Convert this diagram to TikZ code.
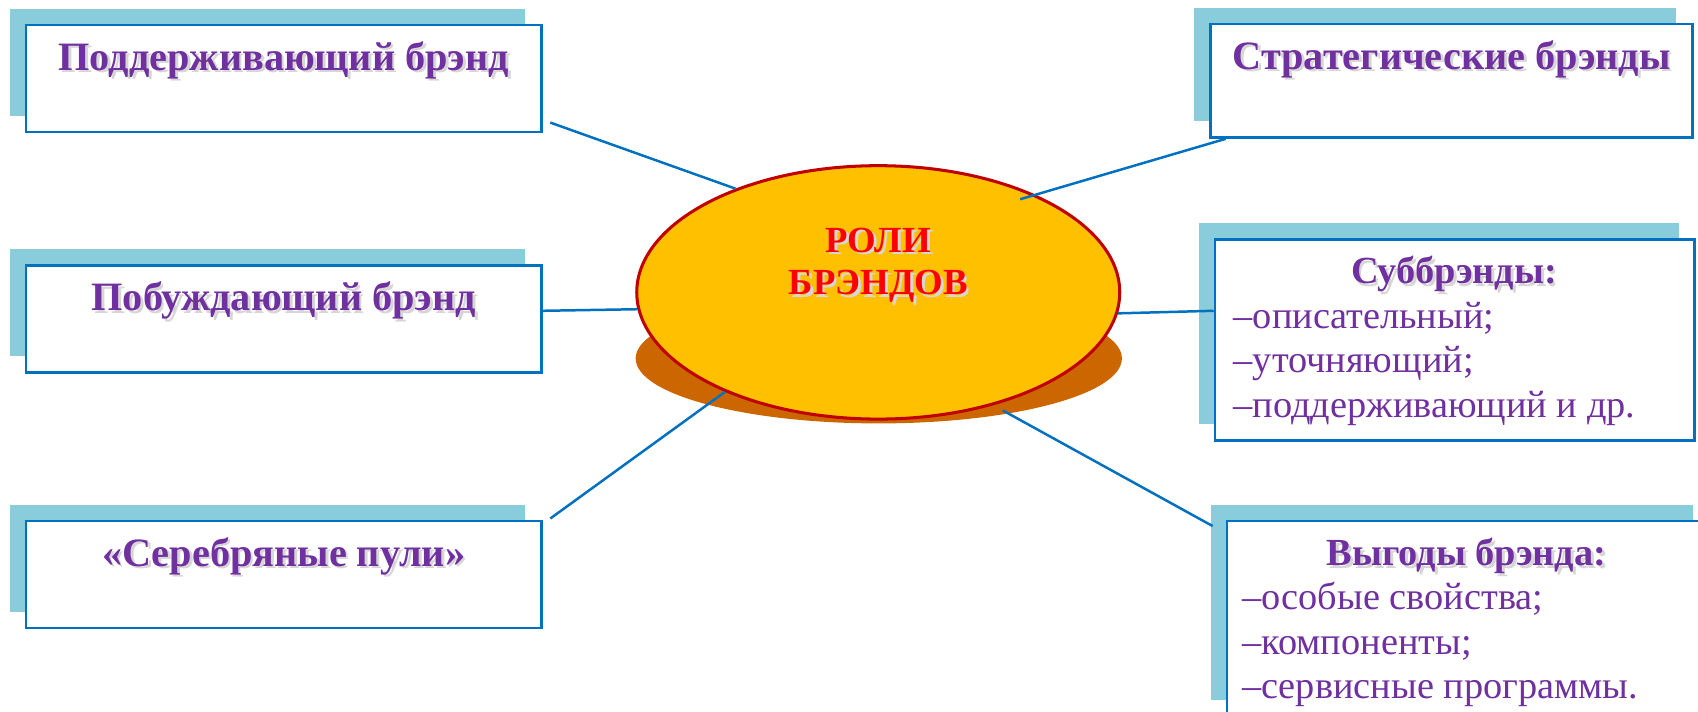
\documentclass[tikz,border=0pt]{standalone}
\usepackage{fontspec}
\setmainfont{Liberation Serif}
\usetikzlibrary{shapes.geometric,shadows}
\definecolor{rolepurple}{HTML}{7030A0}
\definecolor{roleteal}{HTML}{89CCDC}
\definecolor{roleblue}{HTML}{0070C0}
\definecolor{rolegold}{HTML}{FFC000}
\definecolor{rolebrown}{HTML}{CC6600}
\definecolor{rolered}{HTML}{C00000}
\newcommand{\shtext}[1]{\makebox[0pt][l]{\hspace{1.3pt}\raisebox{-1.3pt}{\textcolor{black!16}{#1}}}#1}

\begin{document}
\begin{tikzpicture}[x=0.5pt, y=-0.5pt,
  rolebox/.style={rectangle, draw=roleblue, line width=1.2pt, fill=white, inner sep=0pt,
    drop shadow={shadow xshift=-7.5pt, shadow yshift=7.5pt, fill=roleteal, opacity=1}},
  roletitle/.style={anchor=base, yshift=-21.5pt, inner sep=0pt, text=rolepurple, font=\fontsize{18.6}{20.5}\selectfont\bfseries},
  rolelist/.style={anchor=north west, yshift=-7pt, align=left, inner sep=0pt, text=rolepurple, font=\fontsize{17.7}{20.5}\selectfont},
  link/.style={draw=roleblue, line width=1.15pt}]
\path[use as bounding box, clip] (0,0) rectangle (1568,657);
\node[ellipse, fill=rolebrown, minimum width=224.5pt, minimum height=60pt, inner sep=0pt] (RB0s) at (811.5,331) {};
\node[ellipse, draw=rolered, line width=1.4pt, fill=rolegold, minimum width=223pt, minimum height=117pt, inner sep=0pt,
  label={[text=red, font=\fontsize{17}{19.5}\selectfont\bfseries, align=center, yshift=12pt]center:{\shtext{РОЛИ}\\\shtext{БРЭНДОВ}}}] (RB0) at (811,270) {};
\node[rolebox, minimum width=238pt, minimum height=49.5pt, label={[roletitle]north:{\shtext{Поддерживающий брэнд}}}] (RB1) at (262,72.5) {};
\node[rolebox, minimum width=238pt, minimum height=49.5pt, label={[roletitle]north:{\shtext{Побуждающий брэнд}}}] (RB2) at (262,294.5) {};
\node[rolebox, minimum width=238pt, minimum height=49.5pt, label={[roletitle]north:{\shtext{«Серебряные пули»}}}] (RB3) at (262,530.5) {};
\node[rolebox, minimum width=222.5pt, minimum height=52.5pt, label={[roletitle]north:{\shtext{Стратегические брэнды}}}] (RB4) at (1340.5,74.5) {};
\node[rolebox, minimum width=221.5pt, minimum height=93pt,
  label={[rolelist, xshift=9pt]north west:{\rule{0pt}{14pt}\makebox[203.5pt]{\bfseries\shtext{Суббрэнды:}}\\–описательный;\\–уточняющий;\\–поддерживающий и др.}}] (RB5) at (1343.5,314) {};
\node[rolebox, minimum width=222.5pt, minimum height=90pt,
  label={[rolelist, xshift=7.5pt]north west:{\rule{0pt}{14pt}\makebox[207pt]{\bfseries\shtext{Выгоды брэнда:}}\\–особые свойства;\\–компоненты;\\–сервисные программы.}}] (RB6) at (1355.5,571) {};
\draw[link] ([xshift=3.5pt,yshift=5pt]RB1.south east) -- (RB0.144.8);
\draw[link] ([yshift=3.75pt]RB2.east) -- (RB0.184.4);
\draw[link] ([xshift=3.5pt,yshift=0.5pt]RB3.north east) -- (RB0.213);
\draw[link] ([xshift=65.5pt,yshift=43pt]RB0.center) -- ([xshift=7.5pt]RB4.south west);
\draw[link] (RB0.355.6) -- ([yshift=13.5pt]RB5.west);
\draw[link] ([xshift=57.5pt,yshift=-54.5pt]RB0.center) -- ([xshift=-6pt,yshift=-3pt]RB6.north west);
\end{tikzpicture}
\end{document}
